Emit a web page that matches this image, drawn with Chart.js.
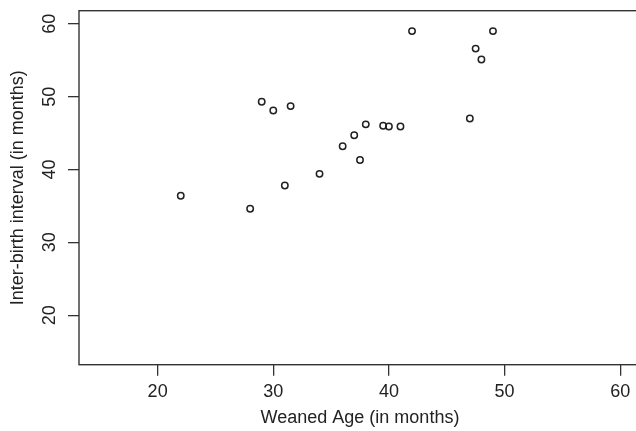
<!DOCTYPE html>
<html>
<head>
<meta charset="utf-8">
<script src="https://cdn.jsdelivr.net/npm/chart.js@4.4.0/dist/chart.umd.min.js"></script>
<style>
  html, body { margin: 0; padding: 0; background: #fff; overflow: hidden; }
  #wrap { width: 636px; height: 431px; overflow: hidden; }
</style>
</head>
<body>
<div id="wrap"><canvas id="weaning_chart" width="646" height="431"></canvas></div>
<script>
// values
let weanedAge  = [22, 28, 29, 30, 31.5, 31, 34, 36, 37, 37.5, 38, 39.5, 40, 41, 42, 47, 47.5, 48, 49];
let interBirth = [36.4, 34.6, 49.3, 48.1, 48.7, 37.8, 39.4, 43.2, 44.7, 41.3, 46.2, 46.0, 45.9, 45.9, 59.0, 47.0, 56.6, 55.1, 59.0];
let xTicks = [20, 30, 40, 50, 60];
let yTicks = [20, 30, 40, 50, 60];
let xLabel = "Weaned Age (in months)";
let yLabel = "Inter-birth interval (in months)";

let points = weanedAge.map(function (x, i) { return {x: x, y: interBirth[i]}; });

const inkColor = "#222";

// R draws a box all round the plot region (right side sits past the 636px window)
const plotBox = {
    id: "plotBox",
    afterDraw(chart) {
        let a = chart.chartArea;
        let ctx = chart.ctx;
        ctx.save();
        ctx.strokeStyle = "#333";
        ctx.lineWidth = 1.4;
        ctx.strokeRect(a.left, a.top, a.right - a.left, a.bottom - a.top);
        ctx.restore();
    }
};

new Chart("weaning_chart", {
    type: "scatter",
    data: {
        datasets: [{
            data: points,
            pointStyle: "circle",
            pointRadius: 3.2,
            pointHoverRadius: 3.2,
            borderWidth: 1.5,
            borderColor: inkColor,
            backgroundColor: "rgba(0,0,0,0)"
        }]
    },
    options: {
        responsive: false,
        animation: false,
        events: [],
        layout: {padding: {top: 10.7, right: 5, left: 0, bottom: 0}},
        plugins: {
            legend: {display: false},
            tooltip: {enabled: false},
            title: {display: false}
        },
        scales: {
            x: {
                type: "linear",
                min: 13.2,
                max: 61.8,
                afterBuildTicks: function (scale) {
                    scale.ticks = xTicks.map(function (v) { return {value: v}; });
                },
                afterFit: function (scale) {
                    scale.height = 66.3;
                    scale.paddingLeft = 0;
                    scale.paddingRight = 0;
                },
                grid: {drawOnChartArea: false, tickLength: 11, tickColor: "#333", lineWidth: 1.3},
                border: {display: false},
                ticks: {
                    autoSkip: false,
                    maxRotation: 0,
                    padding: 6,
                    color: inkColor,
                    font: {family: "'Liberation Sans', Arial, sans-serif", size: 18}
                },
                title: {
                    display: true,
                    text: xLabel,
                    color: inkColor,
                    padding: {top: 0, bottom: 2},
                    font: {family: "'Liberation Sans', Arial, sans-serif", size: 18}
                }
            },
            y: {
                type: "linear",
                min: 13.2,
                max: 61.8,
                afterBuildTicks: function (scale) {
                    scale.ticks = yTicks.map(function (v) { return {value: v}; });
                },
                afterFit: function (scale) {
                    scale.width = 79;
                    scale.paddingTop = 0;
                    scale.paddingBottom = 0;
                },
                grid: {drawOnChartArea: false, tickLength: 11, tickColor: "#333", lineWidth: 1.3},
                border: {display: false},
                ticks: {
                    autoSkip: false,
                    minRotation: 90,
                    maxRotation: 90,
                    crossAlign: "center",
                    padding: 7.5,
                    color: inkColor,
                    font: {family: "'Liberation Sans', Arial, sans-serif", size: 18}
                },
                title: {
                    display: true,
                    text: yLabel,
                    color: inkColor,
                    padding: {top: 7.4, bottom: 0},
                    font: {family: "'Liberation Sans', Arial, sans-serif", size: 18}
                }
            }
        }
    },
    plugins: [plotBox]
});
</script>
</body>
</html>
